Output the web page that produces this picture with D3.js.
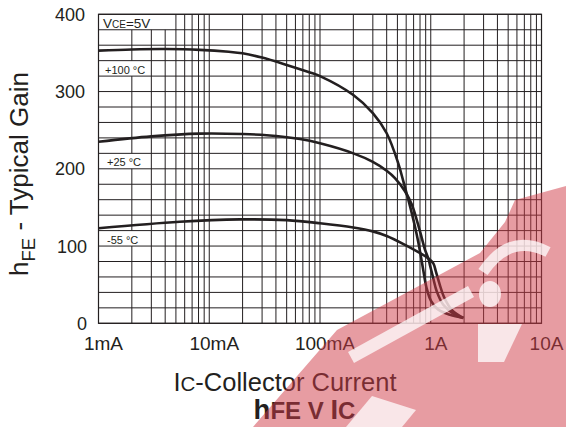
<!DOCTYPE html>
<html>
<head>
<meta charset="utf-8">
<script src="https://cdn.jsdelivr.net/npm/d3@7"></script>
<style>
  body { margin: 0; background: #fff; }
  svg { display: block; font-family: "Liberation Sans", Arial, Helvetica, sans-serif; }
</style>
</head>
<body>
<svg id="chart" width="566" height="427"></svg>
<script>
// Axis ticks
const xTickValues = [0.001, 0.01, 0.1, 1, 10];
const xTickLabels = ["1mA", "10mA", "100mA", "1A", "10A"];
const yTickValues = [0, 100, 200, 300, 400];

// hFE vs collector current (A), VCE = 5V
const currentHot = [0.001, 0.002, 0.004, 0.0082, 0.015, 0.02, 0.03, 0.05, 0.08, 0.1, 0.2, 0.3, 0.4, 0.509, 0.565, 0.627, 0.673, 0.721, 0.772, 0.816, 0.86, 0.916, 1.005, 1.162, 1.492, 1.97];
const gainHot    = [353, 354.5, 355, 354, 351.5, 349.5, 344, 334.5, 325, 320, 295.5, 272, 246, 207, 184, 160, 143, 125, 105, 86, 67, 46, 29, 18, 11, 7];

const currentRoom = [0.001, 0.003, 0.0082, 0.02, 0.033, 0.066, 0.1, 0.2, 0.3, 0.4, 0.475, 0.585, 0.673, 0.747, 0.828, 0.888, 0.95, 0.985, 1.055, 1.132, 1.298, 1.656, 1.97];
const gainRoom    = [235, 242, 245.5, 245, 243.5, 238.5, 233, 220, 209, 197.5, 188, 171, 154, 134, 111, 95, 84, 75, 58, 41.5, 24, 11, 7];

const currentCold = [0.001, 0.0054, 0.019, 0.05, 0.1, 0.2, 0.3, 0.4, 0.586, 0.773, 0.95, 1.055, 1.115, 1.2, 1.317, 1.556, 1.97];
const gainCold    = [123, 131.5, 134.5, 133.5, 129.5, 124, 119, 113, 101.5, 92, 84, 77.5, 66.5, 51, 34, 17, 7];

const seriesNames = ["+100 °C", "+25 °C", "-55 °C"];
// gain band (lower edge) in which each curve name sits
const labelBands = [320, 200, 100];

const ink = "#231f20";
const svg = d3.select("#chart");

const x = d3.scaleLog().domain([0.001, 10]).range([98.5, 541.5]);
const y = d3.scaleLinear().domain([0, 400]).range([323.3, 14.3]);

// vertical log grid: 1..9 per decade
const xGrid = [];
[0.001, 0.01, 0.1, 1].forEach(d => { for (let k = 1; k <= 9; k++) xGrid.push(d * k); });
xGrid.push(10);
const yGrid = d3.range(0, 401, 20);

svg.append("g").selectAll("line").data(xGrid).join("line")
  .attr("x1", d => x(d)).attr("x2", d => x(d))
  .attr("y1", y(400)).attr("y2", y(0))
  .attr("stroke", ink).attr("stroke-width", 1);

// white panels behind the in-plot notes
const boxes = svg.append("g");
boxes.append("rect")
  .attr("x", x(0.001) + 1).attr("y", y(400))
  .attr("width", 170 - x(0.001) - 1).attr("height", y(380) - y(400))
  .attr("fill", "#fff");
labelBands.forEach(b => {
  boxes.append("rect")
    .attr("x", x(0.001) + 1).attr("y", y(b + 20))
    .attr("width", 148 - x(0.001) - 1).attr("height", y(b) - y(b + 20))
    .attr("fill", "#fff");
});

svg.append("g").selectAll("line").data(yGrid).join("line")
  .attr("x1", x(0.001)).attr("x2", x(10))
  .attr("y1", d => y(d)).attr("y2", d => y(d))
  .attr("stroke", ink).attr("stroke-width", 1);

// frame
svg.append("rect")
  .attr("x", x(0.001)).attr("y", y(400))
  .attr("width", x(10) - x(0.001)).attr("height", y(0) - y(400))
  .attr("fill", "none").attr("stroke", ink).attr("stroke-width", 1.2);

// curves
const line = d3.line()
  .x(d => x(d[0])).y(d => y(d[1]))
  .curve(d3.curveCatmullRom.alpha(0.5));
const series = [
  d3.zip(currentHot, gainHot),
  d3.zip(currentRoom, gainRoom),
  d3.zip(currentCold, gainCold)
];
svg.append("g").selectAll("path").data(series).join("path")
  .attr("d", line)
  .attr("fill", "none")
  .attr("stroke", ink)
  .attr("stroke-width", 2.6)
  .attr("stroke-linejoin", "round");

// in-plot notes
const note = svg.append("text")
  .attr("x", 103).attr("y", y(380) - 2)
  .attr("font-size", 13.5).attr("fill", ink);
note.append("tspan").text("V");
note.append("tspan").attr("font-size", 10).text("CE");
note.append("tspan").text("=5V");

svg.append("g").selectAll("text").data(seriesNames).join("text")
  .attr("x", (d, i) => i === 0 ? 105 : 107)
  .attr("y", (d, i) => y(labelBands[i]) - 2.5)
  .attr("font-size", 11)
  .attr("fill", ink)
  .text(d => d);

// y tick labels
svg.append("g").selectAll("text").data(yTickValues).join("text")
  .attr("x", d => d === 0 || d === 100 ? 87 : 85)
  .attr("y", d => y(d))
  .attr("dy", "0.36em")
  .attr("text-anchor", "end")
  .attr("font-size", 18)
  .attr("fill", ink)
  .text(d => d);

// x tick labels
svg.append("g").selectAll("text").data(xTickValues).join("text")
  .attr("x", d => x(d) + 5)
  .attr("y", 350)
  .attr("text-anchor", "middle")
  .attr("font-size", 19)
  .attr("fill", ink)
  .text((d, i) => xTickLabels[i]);

// axis titles
const xTitle = svg.append("text")
  .attr("x", 285).attr("y", 391)
  .attr("text-anchor", "middle")
  .attr("font-size", 25.5)
  .attr("fill", ink);
xTitle.append("tspan").text("I");
xTitle.append("tspan").attr("font-size", 20.5).text("C");
xTitle.append("tspan").text("-Collector Current");

const yTitle = svg.append("text")
  .attr("transform", "translate(28,174) rotate(-90)")
  .attr("text-anchor", "middle")
  .attr("font-size", 26)
  .attr("fill", ink);
yTitle.append("tspan").text("h");
yTitle.append("tspan").attr("font-size", 18.5).attr("dy", 7).text("FE");
yTitle.append("tspan").attr("dy", -7).text(" - Typical Gain");

const title = svg.append("text")
  .attr("x", 304.5).attr("y", 419)
  .attr("text-anchor", "middle")
  .attr("font-weight", "bold")
  .attr("font-size", 24)
  .attr("fill", ink);
title.append("tspan").attr("font-size", 27.5).text("h");
title.append("tspan").text("FE V ");
title.append("tspan").attr("font-size", 27.5).text("I");
title.append("tspan").text("C");

// red corner badge
const badge = svg.append("g");
badge.append("path")
  .attr("d", "M253,427 L337,330 L480,253 L505,222 L515,200 L566,186 L566,427 Z")
  .attr("fill", "rgb(208,58,70)").attr("fill-opacity", 0.5);
badge.append("path")
  .attr("d", "M348,352 L468,286 L474,297 L354,363 Z")
  .attr("fill", "#fff").attr("fill-opacity", 0.75);
badge.append("path")
  .attr("d", "M483,272 Q510,232 548,252")
  .attr("fill", "none").attr("stroke", "#fff").attr("stroke-opacity", 0.75).attr("stroke-width", 11);
badge.append("ellipse")
  .attr("cx", 490).attr("cy", 294).attr("rx", 11).attr("ry", 13)
  .attr("fill", "#fff").attr("fill-opacity", 0.75);
badge.append("path")
  .attr("d", "M478,324 L522,324 L504,362 L478,362 Z")
  .attr("fill", "#fff").attr("fill-opacity", 0.75);
badge.append("path")
  .attr("d", "M346,427 L372,396 L416,410 L402,427 Z")
  .attr("fill", "#fff").attr("fill-opacity", 0.75);
</script>
</body>
</html>
